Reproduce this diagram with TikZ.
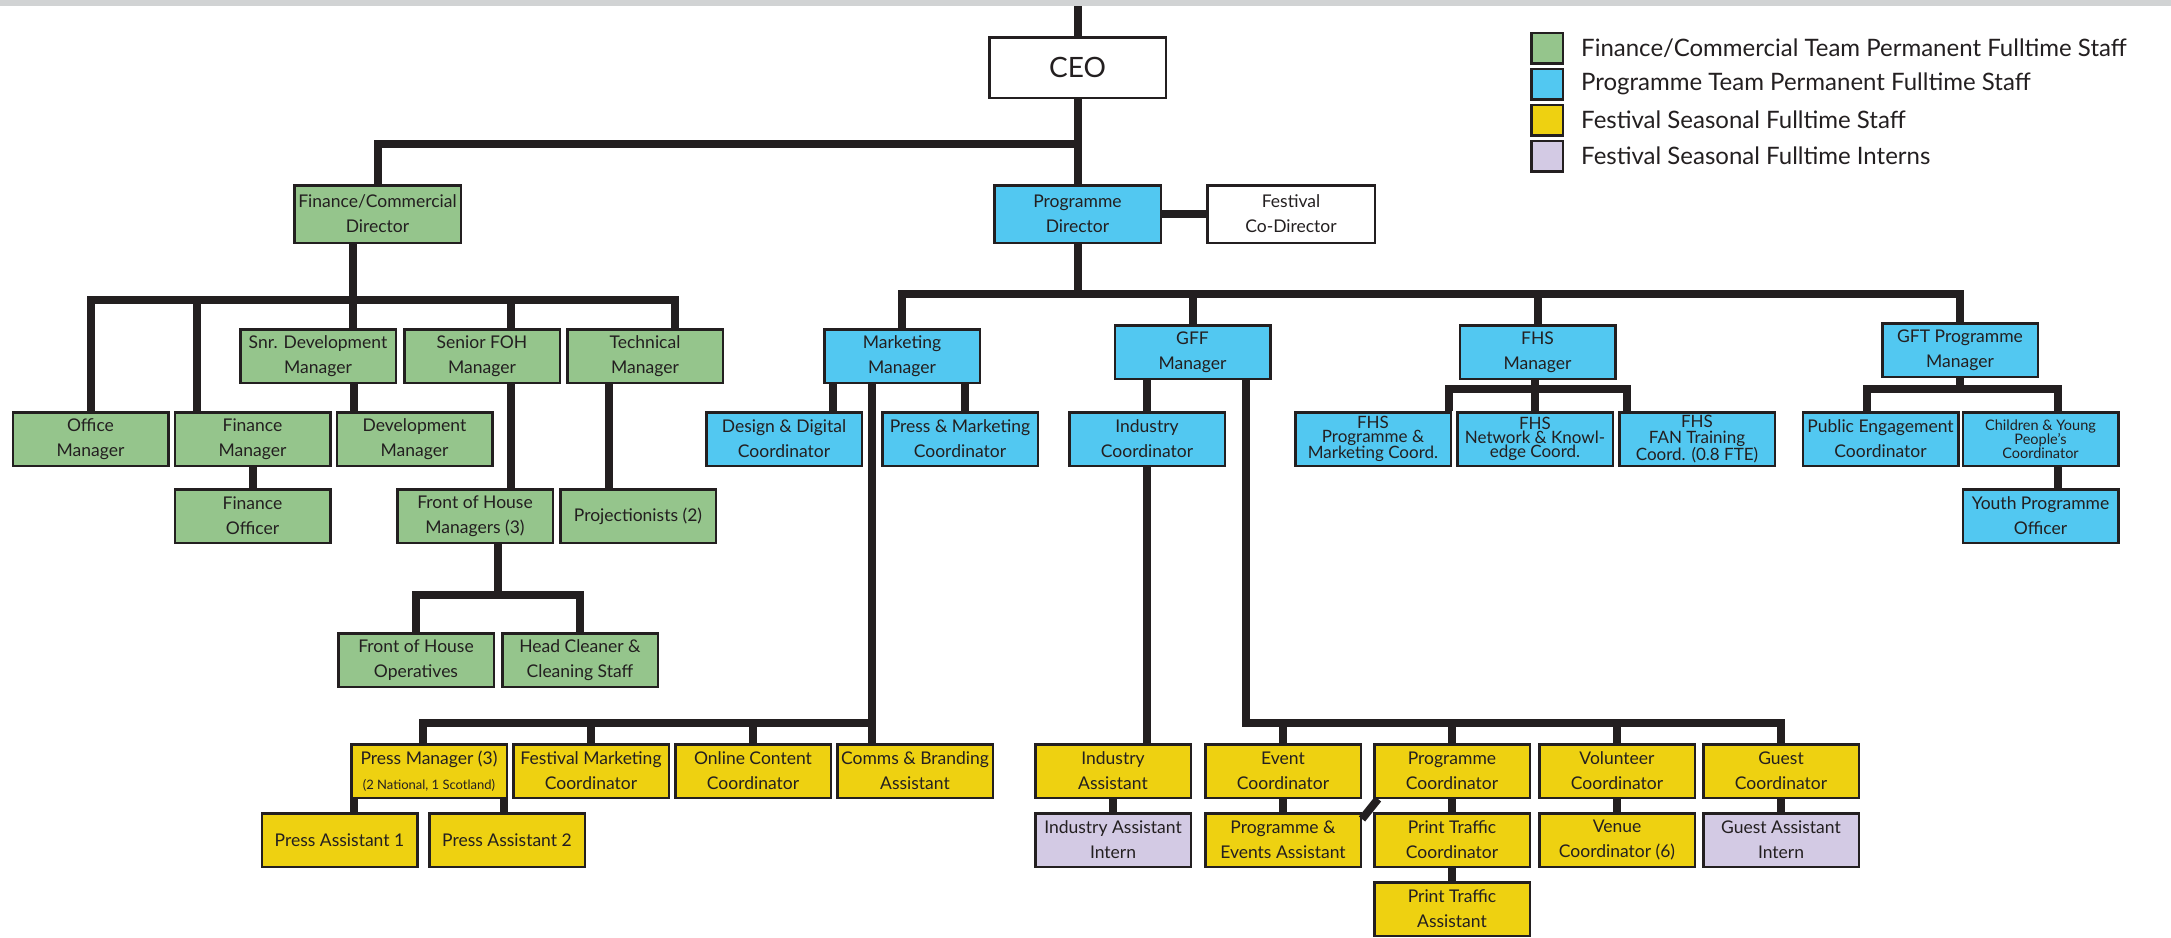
\documentclass[tikz,border=0pt]{standalone}
\usepackage{fontspec}
\setmainfont{Lato}
\usetikzlibrary{positioning}

\definecolor{ink}{RGB}{35,31,32}
\definecolor{rulegray}{RGB}{209,211,212}
\definecolor{fingreen}{RGB}{149,197,140}
\definecolor{progblue}{RGB}{82,200,241}
\definecolor{festyellow}{RGB}{238,209,17}
\definecolor{internlilac}{RGB}{211,202,228}

\newcommand\boxfont{\fontsize{17.5}{25}\selectfont}
\newcommand\tightfont{\fontsize{17}{14}\selectfont}

\tikzset{
  box/.style={draw=ink, line width=2.5pt, fill=#1, text=ink, align=center,
    minimum width=155.5pt, minimum height=53.5pt, inner sep=0pt, font=\boxfont},
  fin/.style={box=fingreen},
  prog/.style={box=progblue},
  fest/.style={box=festyellow},
  intern/.style={box=internlilac},
  link/.style={draw=ink, line width=8pt},
  key/.style={draw=ink, line width=2.5pt, fill=#1, minimum width=31.5pt, minimum height=30.5pt, inner sep=0pt},
  keytext/.style={anchor=west, text=ink, font=\fontsize{24}{28}\selectfont, inner sep=0pt}
}

\begin{document}
\begin{tikzpicture}[x=1pt, y=-1pt]
    \useasboundingbox (0,0) rectangle (2171,937);
    \fill[rulegray] (0,0) rectangle (2171,6);
    \coordinate (topedge) at (1077.5,6);

    % bar heights
    \coordinate (ceobar) at (0,144);
    \coordinate (finbar) at (0,300);
    \coordinate (progbar) at (0,294);
    \coordinate (fohbar) at (0,595);
    \coordinate (fhsbar) at (0,389);
    \coordinate (gftbar) at (0,389);
    \coordinate (pressbar) at (0,723);
    \coordinate (eventbar) at (0,723);

    % Legend
    \foreach \col/\txt [count=\i] in {fingreen/{Finance/Commercial Team Permanent Fulltime Staff},
        progblue/{Programme Team Permanent Fulltime Staff},
        festyellow/{Festival Seasonal Fulltime Staff},
        internlilac/{Festival Seasonal Fulltime Interns}}{
        \node[key=\col] (key\i) at (1547,12+36*\i) {};
        \node[keytext, right=17pt of key\i] (keytxt\i) {\txt};
    }

    % Top
    \node[box=white, minimum width=176.5pt, minimum height=60.5pt, font=\fontsize{28}{30}\selectfont] (ceo) at (1077.5,67.5) {CEO};
    \node[fin, minimum width=166.5pt, minimum height=57.5pt] (findir) at (377.5,214) {Finance/Commercial\\Director};
    \node[prog, minimum width=166.5pt, minimum height=57.5pt] (progdir) at (1077.5,214) {Programme\\Director};
    \node[box=white, minimum width=167.5pt, minimum height=57.5pt] (codir) at (1291,214) {Festival\\Co-Director};

    % Finance/Commercial team
    \node[fin] (snrdev) at (318,356) {Snr. Development\\Manager};
    \node[fin, right=6pt of snrdev] (seniorfoh) {Senior FOH\\Manager};
    \node[fin, right=5pt of seniorfoh] (technical) {Technical\\Manager};
    \node[fin] (office) at (90.5,439) {Office\\Manager};
    \node[fin, right=4pt of office] (finmgr) {Finance\\Manager};
    \node[fin, right=4pt of finmgr] (devmgr) {Development\\Manager};
    \node[fin, below=21pt of finmgr] (finofficer) {Finance\\Officer};
    \node[fin] (fohmgrs) at (475,516) {Front of House\\Managers (3)};
    \node[fin, right=5pt of fohmgrs] (projectionists) {Projectionists (2)};
    \node[fin] (fohops) at (416,660) {Front of House\\Operatives};
    \node[fin, right=6pt of fohops] (cleaner) {Head Cleaner \&\\Cleaning Staff};

    % Programme team
    \node[prog] (marketing) at (902,356) {Marketing\\Manager};
    \node[prog] (gff) at (1192.5,352) {GFF\\Manager};
    \node[prog] (fhs) at (1537.5,352) {FHS\\Manager};
    \node[prog] (gft) at (1960,350) {GFT Programme\\Manager};
    \node[prog] (design) at (784,439) {Design \& Digital\\Coordinator};
    \node[prog, right=18pt of design] (pressmkt) {Press \& Marketing\\Coordinator};
    \node[prog] (industrycoord) at (1147,439) {Industry\\Coordinator};
    \node[prog, font=\tightfont] (fhsprog) at (1373,439) {FHS\\Programme \&\\Marketing Coord.};
    \node[prog, font=\tightfont, right=4pt of fhsprog] (fhsnet) {FHS\\Network \& Knowl-\\edge Coord.};
    \node[prog, font=\fontsize{17}{16}\selectfont, right=4pt of fhsnet] (fhsfan) {FHS\\FAN Training\\Coord. (0.8 FTE)};
    \node[prog] (public) at (1880.5,439) {Public Engagement\\Coordinator};
    \node[prog, font=\fontsize{14.5}{14}\selectfont, right=2pt of public] (children) {Children \& Young\\People’s\\Coordinator};
    \node[prog, below=21pt of children] (youth) {Youth Programme\\Officer};

    % Festival seasonal staff
    \node[fest] (pressmgr) at (429,771) {Press Manager (3)\\{\fontsize{13}{15}\selectfont(2 National, 1 Scotland)}};
    \node[fest, right=4pt of pressmgr] (festmkt) {Festival Marketing\\Coordinator};
    \node[fest, right=4pt of festmkt] (online) {Online Content\\Coordinator};
    \node[fest, right=4pt of online] (comms) {Comms \& Branding\\Assistant};
    \node[fest] (pressa1) at (339.5,840) {Press Assistant 1};
    \node[fest] (pressa2) at (507,840) {Press Assistant 2};
    \node[fest] (indasst) at (1113,771) {Industry\\Assistant};
    \node[intern, below=13pt of indasst] (intern1) {Industry Assistant\\Intern};
    \node[fest] (event) at (1283,771) {Event\\Coordinator};
    \node[fest] (progcoord) at (1452,771) {Programme\\Coordinator};
    \node[fest] (volunteer) at (1617,771) {Volunteer\\Coordinator};
    \node[fest] (guest) at (1781,771) {Guest\\Coordinator};
    \node[fest, below=13pt of event] (pea) {Programme \&\\Events Assistant};
    \node[fest, below=13pt of progcoord] (printcoord) {Print Traffic\\Coordinator};
    \node[fest, below=13pt of printcoord] (printasst) {Print Traffic\\Assistant};
    \node[fest, below=13pt of volunteer] (venue) {Venue\\Coordinator (6)};
    \node[intern, below=13pt of guest] (guestintern) {Guest Assistant\\Intern};

    % CEO links
    \draw[link] (topedge) -- (ceo.north);
    \draw[link] (ceo.south) -- (progdir.north);
    \draw[link] (findir.north) |- (ceobar -| ceo.south);
    \draw[link] (progdir) -- (codir);

    % Finance links
    \draw[link] ([xshift=-25pt]findir.south) -- ([xshift=-25pt]findir.south |- snrdev.north);
    \draw[link] (office.north) |- ([xshift=30pt]technical.north |- finbar) -- ([xshift=30pt]technical.north);
    \draw[link] ([xshift=-56pt]finmgr.north) -- ([xshift=-56pt]finmgr.north |- finbar);
    \draw[link] ([xshift=29pt]seniorfoh.north) -- ([xshift=29pt]seniorfoh.north |- finbar);
    \draw[link] ([xshift=36pt]snrdev.south) -- ([xshift=36pt]snrdev.south |- devmgr.north);
    \draw[link] (finmgr.south) -- (finofficer.north);
    \draw[link] ([xshift=29pt]seniorfoh.south) -- ([xshift=29pt]seniorfoh.south |- fohmgrs.north);
    \draw[link] ([xshift=-36pt]technical.south) -- ([xshift=-36pt]technical.south |- projectionists.north);
    \draw[link] ([xshift=23pt]fohmgrs.south) -- ([xshift=23pt]fohmgrs.south |- fohbar);
    \draw[link] (fohops.north) |- (fohbar -| cleaner.north) -- (cleaner.north);

    % Programme links
    \draw[link] (progdir.south) -- (progdir.south |- progbar);
    \draw[link] (marketing.north) |- (progbar -| gft.north) -- (gft.north);
    \foreach \n in {gff,fhs}
        \draw[link] (\n.north) -- (\n.north |- progbar);
    \draw[link] ([xshift=-69pt]marketing.south) -- ([xshift=-69pt]marketing.south |- design.north);
    \draw[link] ([xshift=63pt]marketing.south) -- ([xshift=63pt]marketing.south |- pressmkt.north);
    \draw[link] ([xshift=-30pt]marketing.south) -- ([xshift=-30pt]marketing.south |- comms.north);
    \draw[link] ([xshift=-6pt]pressmgr.north) |- ([xshift=-30pt]marketing.south |- pressbar);
    \foreach \n in {festmkt,online}
        \draw[link] (\n.north) -- (\n.north |- pressbar);
    \draw[link] ([xshift=-75pt]pressmgr.south) -- ([xshift=-75pt]pressmgr.south |- pressa1.north);
    \draw[link] ([xshift=75pt]pressmgr.south) -- ([xshift=75pt]pressmgr.south |- pressa2.north);

    \draw[link] (industrycoord.north |- gff.south) -- (industrycoord.north);
    \draw[link] (industrycoord.south) -- (industrycoord.south |- indasst.north);
    \draw[link] ([xshift=53pt]gff.south) |- (eventbar -| guest.north) -- (guest.north);
    \foreach \n in {event,progcoord,volunteer}
        \draw[link] (\n.north) -- (\n.north |- eventbar);
    \foreach \a/\b in {indasst/intern1, event/pea, progcoord/printcoord, printcoord/printasst, volunteer/venue, guest/guestintern}
        \draw[link] (\a.south) -- (\b.north);
    \draw[link] ([xshift=5pt]progcoord.south west) -- ([yshift=-7pt]pea.north east);

    \draw[link] (fhsnet.north |- fhs.south) -- (fhsnet.north);
    \draw[link] ([xshift=76pt]fhsprog.north) |- ([xshift=-70pt]fhsfan.north |- fhsbar) -- ([xshift=-70pt]fhsfan.north);
    \draw[link] (gft.south) -- (gft.south |- gftbar);
    \draw[link] ([xshift=-14pt]public.north) |- ([xshift=17pt]children.north |- gftbar) -- ([xshift=17pt]children.north);
    \draw[link] ([xshift=17pt]children.south) -- ([xshift=17pt]children.south |- youth.north);
\end{tikzpicture}
\end{document}
